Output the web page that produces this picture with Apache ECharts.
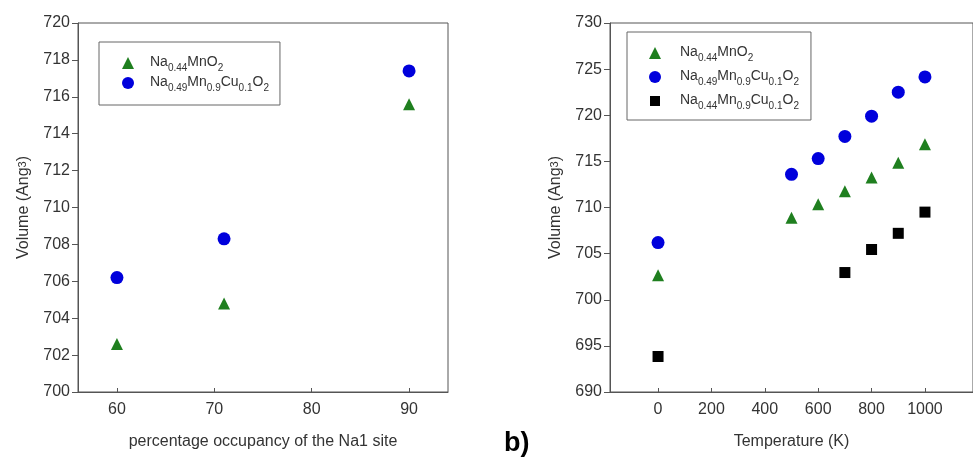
<!DOCTYPE html>
<html>
<head>
<meta charset="utf-8">
<script src="https://cdn.jsdelivr.net/npm/echarts@6/dist/echarts.min.js"></script>
<style>
  html, body { margin: 0; padding: 0; background: #fff; overflow: hidden; }
  #chart { width: 973px; height: 457px; }
</style>
</head>
<body>
<div id="chart"></div>
<script>
// panel a: unit-cell volume vs Na1 site occupancy
const occupancy = [60, 71, 90];
const volMnO2Occ = [702.6, 704.8, 715.6];
const volCu049Occ = [706.2, 708.3, 717.4];

// panel b: unit-cell volume vs temperature
const tempMnO2 = [0, 500, 600, 700, 800, 900, 1000];
const volMnO2T = [702.65, 708.9, 710.35, 711.75, 713.25, 714.85, 716.85];
const tempCu049 = [0, 500, 600, 700, 800, 900, 1000];
const volCu049T = [706.2, 713.6, 715.3, 717.7, 719.9, 722.5, 724.15];
const tempCu044 = [0, 700, 800, 900, 1000];
const volCu044T = [693.85, 702.95, 705.45, 707.2, 709.5];

const occTicks = [60, 70, 80, 90];
const tempTicks = [0, 200, 400, 600, 800, 1000];

const nameMnO2 = 'Na0.44MnO2';
const nameCu049 = 'Na0.49Mn0.9Cu0.1O2';
const nameCu044 = 'Na0.44Mn0.9Cu0.1O2';

const FONT = '"Liberation Sans", Arial, sans-serif';
const GREEN = '#1f7f1f';
const BLUE = '#0000dc';
const BLACK = '#000000';
const AXIS = '#555555';
const TEXT = '#333333';

// legend icons that keep their aspect (built-in triangle/rect get stretched)
const ICON_TRI = 'path://M5,0 L10,10 L0,10 Z';
const ICON_SQ = 'path://M-1,-1 M0,0 L10,0 L10,10 L0,10 Z M11,11';

function pairs(xs, ys) {
  return xs.map(function (x, i) { return [x, ys[i]]; });
}

// chemical formula -> rich text with subscripted numbers
function formula(name) {
  return '{t|' + name.replace(/(\d+(\.\d+)?)/g, '}{s|$1}{t|') + '}';
}

const legendRich = {
  t: { fontFamily: FONT, fontSize: 14, lineHeight: 16, verticalAlign: 'top', color: TEXT },
  s: { fontFamily: FONT, fontSize: 10, lineHeight: 10, padding: [8, 0, 0, 0], verticalAlign: 'top', color: TEXT }
};

const nameRich = {
  n: { fontFamily: FONT, fontSize: 16, lineHeight: 28, verticalAlign: 'top', color: TEXT },
  sup: { fontFamily: FONT, fontSize: 11, lineHeight: 11, padding: [1, 0, 0, 0], verticalAlign: 'top', color: TEXT }
};

function xAxis(gridIndex, min, max, ticks, name) {
  return {
    type: 'value', gridIndex: gridIndex, min: min, max: max,
    name: name, nameLocation: 'middle', nameGap: 42,
    nameTextStyle: { fontFamily: FONT, fontSize: 16, color: TEXT },
    axisLine: { onZero: false, lineStyle: { color: AXIS, width: 1 } },
    axisTick: { inside: true, length: 4, customValues: ticks, lineStyle: { color: AXIS } },
    axisLabel: {
      customValues: ticks, margin: 10, fontFamily: FONT, fontSize: 16, color: TEXT,
      formatter: function (v) { return String(v); }
    },
    splitLine: { show: false }
  };
}

function yAxis(gridIndex, min, max, interval) {
  return {
    type: 'value', gridIndex: gridIndex, min: min, max: max, interval: interval,
    name: '{n|Volume (Ang}{sup|3}{n|)}', nameLocation: 'middle', nameGap: 34,
    nameTextStyle: { rich: nameRich },
    axisLine: { show: true, onZero: false, lineStyle: { color: AXIS, width: 1 } },
    axisTick: { inside: false, length: 6, lineStyle: { color: AXIS } },
    axisLabel: { margin: 8, fontFamily: FONT, fontSize: 16, color: TEXT },
    splitLine: { show: false }
  };
}

function scatter(name, xi, data, symbol, size, color) {
  return {
    type: 'scatter', name: name, xAxisIndex: xi, yAxisIndex: xi,
    data: data, symbol: symbol, symbolSize: size,
    itemStyle: { color: color, opacity: 1 },
    emphasis: { disabled: true }
  };
}

const chart = echarts.init(document.getElementById('chart'), null, { renderer: 'canvas' });

chart.setOption({
  animation: false,
  backgroundColor: '#ffffff',
  grid: [
    { left: 78, top: 23, width: 370, height: 369, show: true, borderColor: AXIS, borderWidth: 1 },
    { left: 610, top: 23, width: 371, height: 369, show: true, borderColor: AXIS, borderWidth: 1 }
  ],
  xAxis: [
    xAxis(0, 56, 94, occTicks, 'percentage occupancy of the Na1 site'),
    xAxis(1, -180, 1180, tempTicks, 'Temperature (K)')
  ],
  yAxis: [
    yAxis(0, 700, 720, 2),
    yAxis(1, 690, 730, 5)
  ],
  legend: [
    {
      data: [{ name: nameMnO2, icon: ICON_TRI }, { name: nameCu049, icon: 'circle' }],
      left: 99, top: 42, orient: 'vertical',
      padding: [13, 11, 12, 23], itemGap: 2,
      itemWidth: 34, itemHeight: 12, symbolKeepAspect: true,
      borderColor: '#666', borderWidth: 1,
      selectedMode: false,
      formatter: formula,
      textStyle: { rich: legendRich }
    },
    {
      data: [
        { name: nameMnO2, icon: ICON_TRI },
        { name: nameCu049, icon: 'circle' },
        { name: nameCu044, icon: ICON_SQ }
      ],
      left: 627, top: 32, orient: 'vertical',
      padding: [13, 12, 9, 22], itemGap: 6,
      itemWidth: 40, itemHeight: 12, symbolKeepAspect: true,
      borderColor: '#666', borderWidth: 1,
      selectedMode: false,
      formatter: formula,
      textStyle: { rich: legendRich }
    }
  ],
  series: [
    scatter(nameMnO2, 0, pairs(occupancy, volMnO2Occ), 'triangle', 12, GREEN),
    scatter(nameCu049, 0, pairs(occupancy, volCu049Occ), 'circle', 13, BLUE),
    scatter(nameMnO2, 1, pairs(tempMnO2, volMnO2T), 'triangle', 12, GREEN),
    scatter(nameCu049, 1, pairs(tempCu049, volCu049T), 'circle', 13, BLUE),
    scatter(nameCu044, 1, pairs(tempCu044, volCu044T), 'rect', 11, BLACK)
  ],
  graphic: [
    {
      type: 'text', left: 504, top: 430,
      style: { text: 'b)', font: 'bold 27px "Liberation Sans", Arial, sans-serif', fill: '#000' }
    }
  ]
});
</script>
</body>
</html>
